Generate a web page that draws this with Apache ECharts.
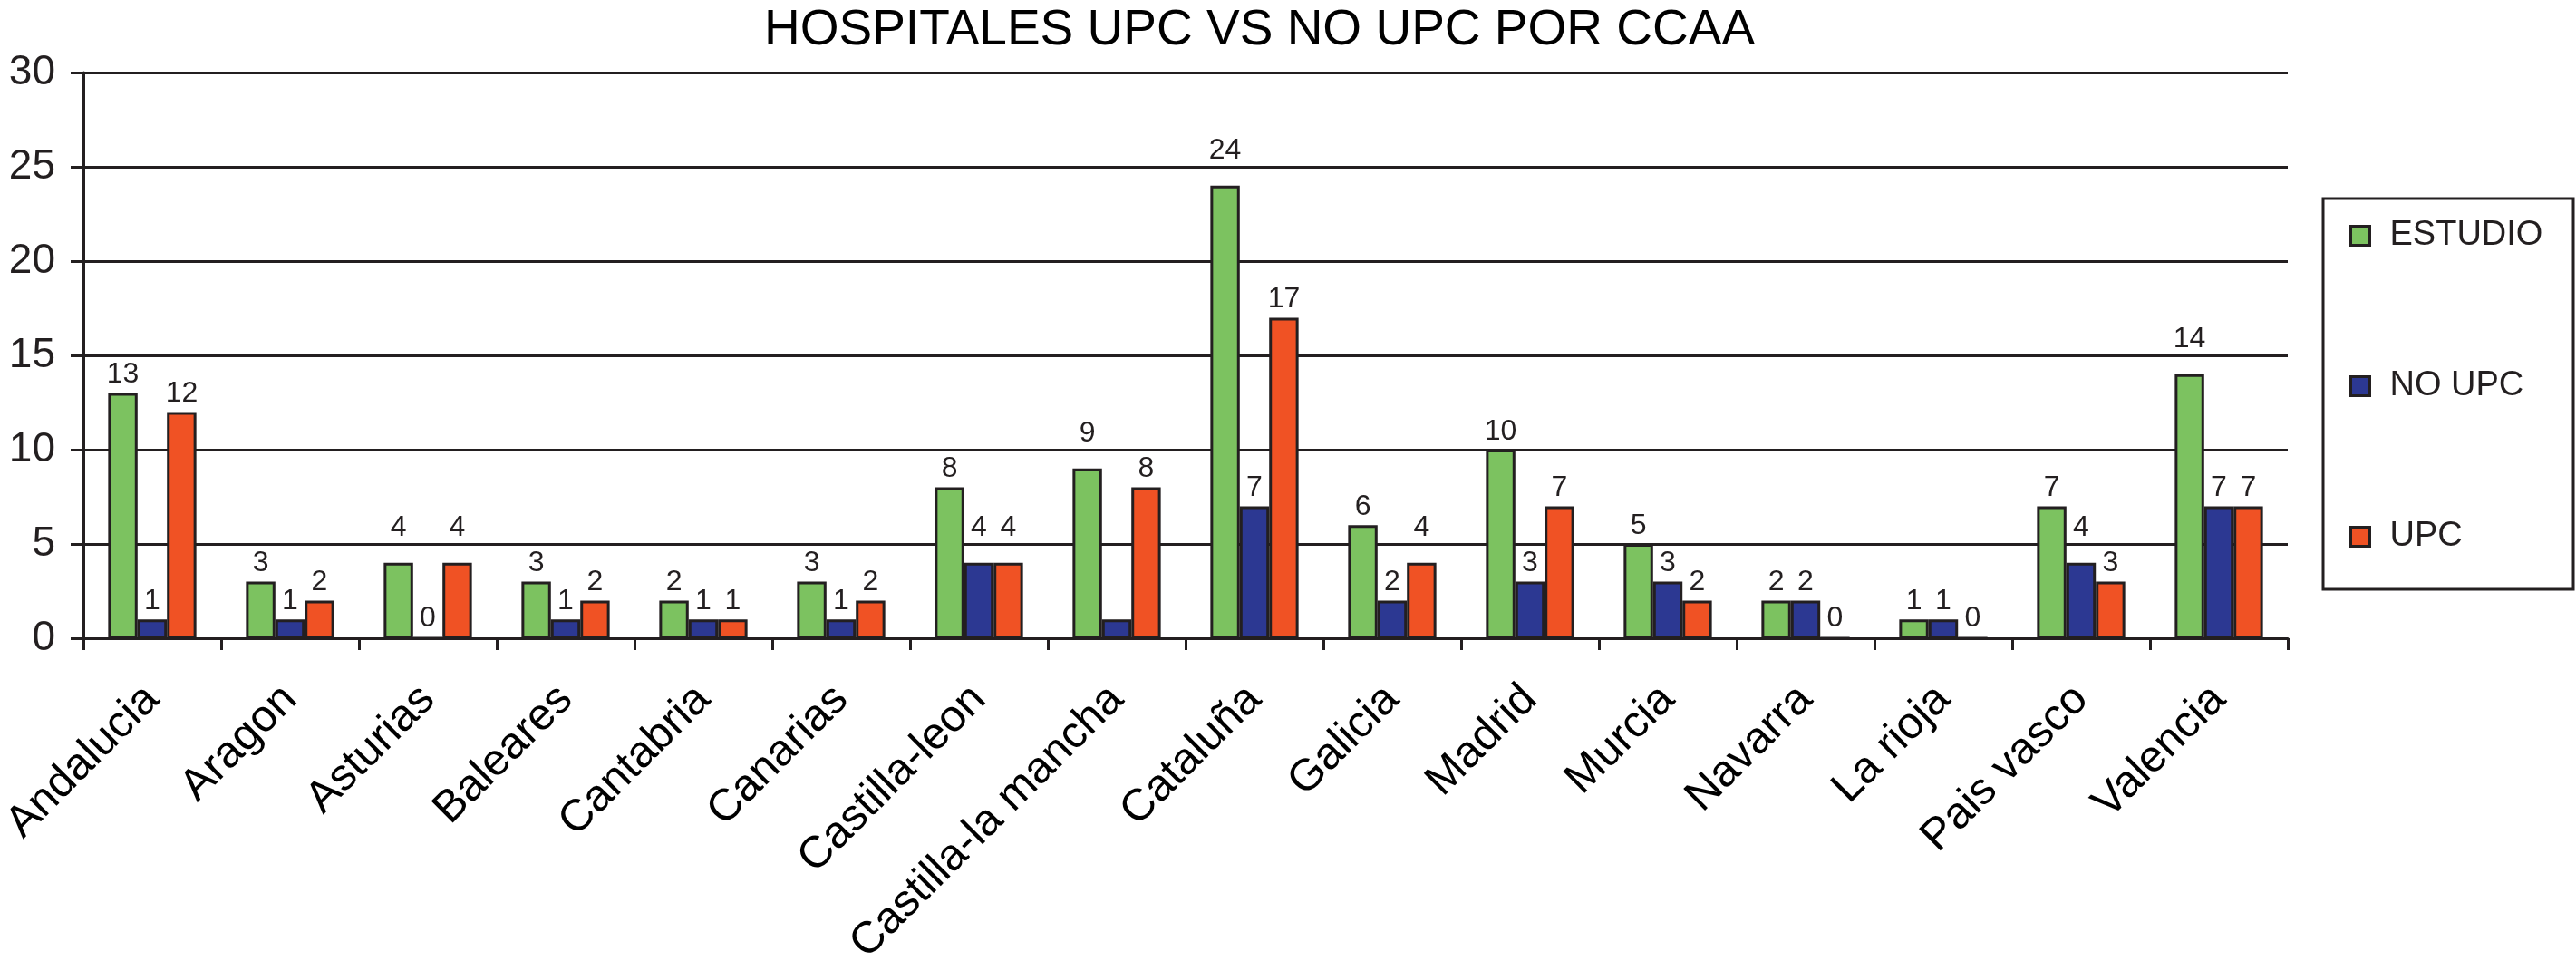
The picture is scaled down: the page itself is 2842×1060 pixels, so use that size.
<!DOCTYPE html>
<html>
<head>
<meta charset="utf-8">
<script src="https://cdn.jsdelivr.net/npm/echarts@6/dist/echarts.min.js"></script>
<style>
html,body{margin:0;padding:0;background:#fff;}
#c{width:2842px;height:1060px;}
</style>
</head>
<body>
<div id="c"></div>
<script>
const titleText = 'HOSPITALES UPC VS NO UPC POR CCAA';
const categories = ['Andalucia','Aragon','Asturias','Baleares','Cantabria','Canarias','Castilla-leon','Castilla-la mancha','Cataluña','Galicia','Madrid','Murcia','Navarra','La rioja','Pais vasco','Valencia'];
const seriesNames = ['ESTUDIO','NO UPC','UPC'];
const estudio = [13,3,4,3,2,3,8,9,24,6,10,5,2,1,7,14];
const noUpc   = [1,1,0,1,1,1,4,1,7,2,3,3,2,1,4,7];
const upc     = [12,2,4,2,1,2,4,8,17,4,7,2,0,0,3,7];
const yTicks = [0,5,10,15,20,25,30];
// labels not printed in the original: [seriesIndex, dataIndex]
const hiddenLabels = [[1,7]];

const colors = ['#7cc260','#2c3892','#f05224'];
const ink = '#231f20';
const font = "'Liberation Sans', Arial, Helvetica, sans-serif";
const values = [estudio, noUpc, upc];
const step = yTicks[1] - yTicks[0];

const chart = echarts.init(document.getElementById('c'), null, {renderer:'canvas'});

// In the original, a value label that would sit on a gridline is lifted just above that gridline.
function liftsOverGrid(v) {
  const r = v % step;
  return v > 0 && r === step - 1;
}

const series = values.map((arr, si) => ({
  name: seriesNames[si],
  type: 'bar',
  barGap: '0%',
  barCategoryGap: '36%',
  itemStyle: { color: colors[si], borderColor: ink, borderWidth: 3 },
  label: { show: true, position: 'top', distance: 4, color: ink, fontSize: 32, fontFamily: font },
  emphasis: { disabled: true },
  data: arr.map((v, di) => {
    const hide = hiddenLabels.some(h => h[0] === si && h[1] === di);
    if (hide) return { value: v, label: { show: false } };
    if (liftsOverGrid(v)) return { value: v, label: { distance: 23 } };
    return v;
  })
}));

chart.setOption({
  animation: false,
  backgroundColor: '#fff',
  title: {
    text: titleText,
    left: 843, top: 6, padding: 0,
    textStyle: { fontSize: 55, fontWeight: 'normal', color: '#000', fontFamily: font }
  },
  legend: {
    orient: 'vertical',
    left: 2592, top: 241,
    itemWidth: 21, itemHeight: 21, itemGap: 128,
    icon: 'rect',
    padding: 0,
    itemStyle: { borderColor: ink, borderWidth: 3 },
    textStyle: { fontSize: 38, lineHeight: 38, color: ink, fontFamily: font, padding: [0,0,0,17] },
    data: seriesNames,
    selectedMode: false
  },
  graphic: [{
    type: 'rect',
    shape: { x: 2563, y: 219, width: 276, height: 431 },
    style: { fill: 'none', stroke: ink, lineWidth: 3 },
    z: 10
  }],
  grid: { left: 92, right: 318, top: 80, bottom: 356, containLabel: false, outerBoundsMode: 'none' },
  xAxis: {
    type: 'category',
    data: categories,
    boundaryGap: true,
    axisLine: { show: true, lineStyle: { color: ink, width: 3 } },
    axisTick: { show: true, length: 13, lineStyle: { color: ink, width: 3 }, alignWithLabel: false },
    axisLabel: { interval: 0, rotate: 45, margin: 60, fontSize: 49, color: '#000', fontFamily: font }
  },
  yAxis: {
    type: 'value',
    min: yTicks[0], max: yTicks[yTicks.length-1], interval: step,
    axisLine: { show: true, lineStyle: { color: ink, width: 3 } },
    axisTick: { show: true, length: 14, lineStyle: { color: ink, width: 3 } },
    splitLine: { show: true, lineStyle: { color: ink, width: 3 } },
    axisLabel: { margin: 31, fontSize: 46, color: ink, fontFamily: font }
  },
  series: series
});
</script>
</body>
</html>
